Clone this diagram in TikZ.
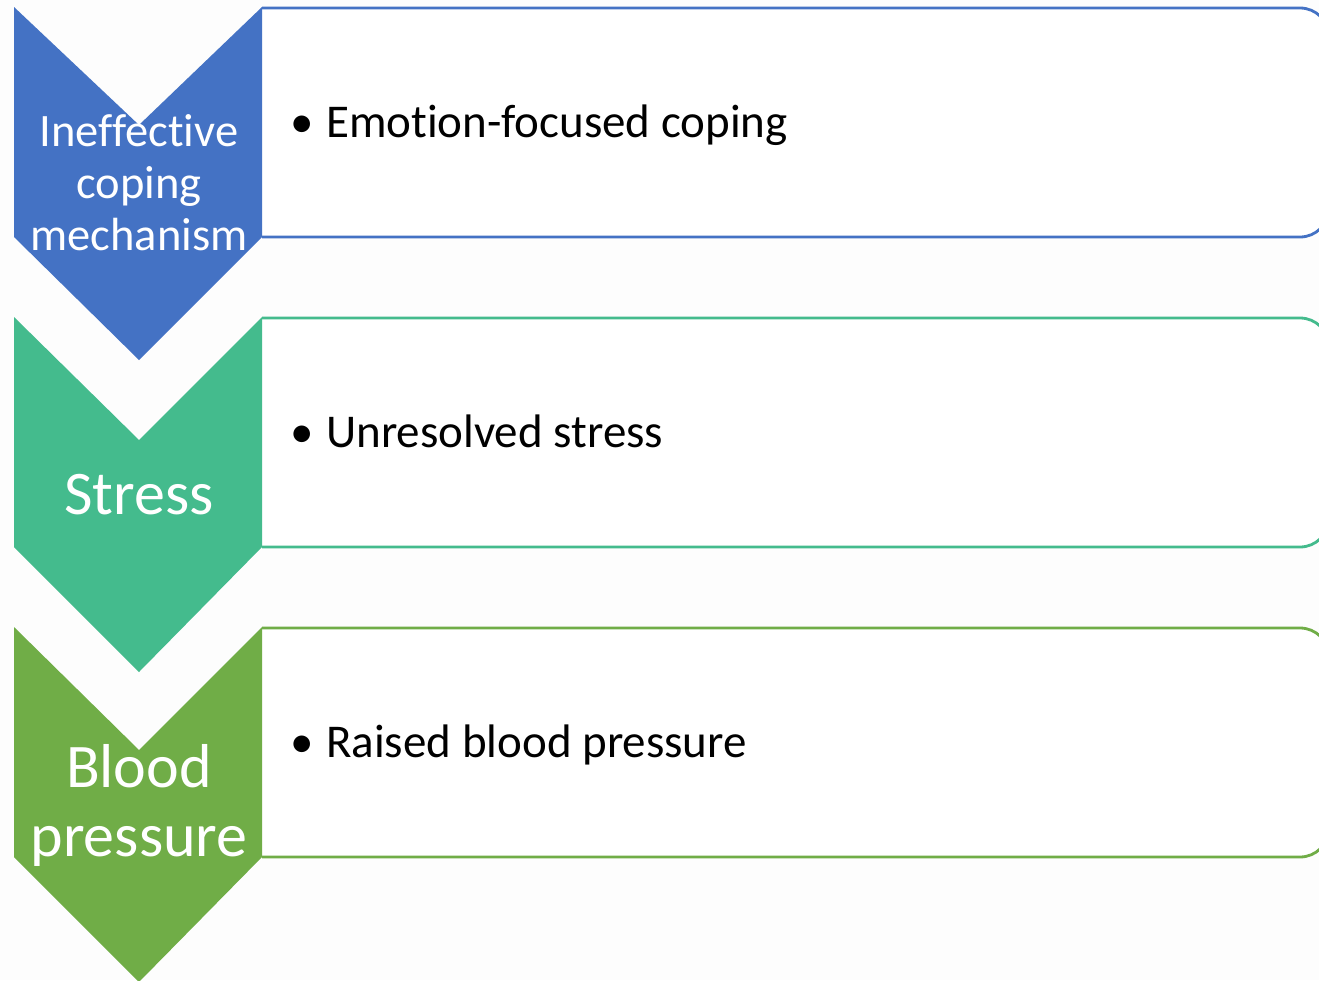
\documentclass[tikz,border=0pt]{standalone}
\usepackage{fontspec}
\setmainfont{Carlito}[Ligatures={NoCommon}]
\definecolor{pagebg}{HTML}{FDFDFD}
\definecolor{chevblue}{HTML}{4472C4}
\definecolor{chevteal}{HTML}{44BB8D}
\definecolor{chevgreen}{HTML}{70AD47}

\begin{document}
\begin{tikzpicture}[x=1pt,y=-1pt,
  itembox/.style={draw=#1,line width=2.8pt,fill=white,rounded corners=29pt},
  steplabel/.style={text=white,align=center,inner sep=0pt},
  itemtext/.style={anchor=base west,inner sep=0pt,font=\fontsize{47}{56}\selectfont}]
            \fill[pagebg] (0,0) rectangle (1319,980);
            \clip (0,0) rectangle (1319,980);
            % step 1
            \draw[itembox=chevblue] (262,8) -| (1329,237) -- (262,237);
            \fill[chevblue] (14,7) -- (139,125) -- (262,7) -- (262,237) -- (139,360) -- (14,237) -- cycle;
            \node[steplabel,font=\fontsize{46.5}{52}\selectfont] (coping) at (139,183) {Ineffective\\coping\\mechanism};
            \node[itemtext] (emotion) at (290,137) {\makebox[36pt][l]{\textbullet}Emotion-focused coping};
            % step 2
            \draw[itembox=chevteal] (262,318) -| (1329,547) -- (262,547);
            \fill[chevteal] (14,317) -- (139,440) -- (262,317) -- (262,547) -- (139,672) -- (14,547) -- cycle;
            \node[steplabel,font=\fontsize{62}{69}\selectfont,anchor=base] (stress) at (139,514) {Stress};
            \node[itemtext] (unresolved) at (290,447) {\makebox[36pt][l]{\textbullet}Unresolved stress};
            % step 3
            \draw[itembox=chevgreen] (262,628) -| (1329,857) -- (262,857);
            \fill[chevgreen] (14,627) -- (139,750) -- (262,627) -- (262,857) -- (139,982) -- (14,857) -- cycle;
            \node[steplabel,font=\fontsize{62}{69}\selectfont] (blood) at (139,805) {Blood\\pressure};
            \node[itemtext] (raised) at (290,757) {\makebox[36pt][l]{\textbullet}Raised blood pressure};
        \end{tikzpicture}
\end{document}
